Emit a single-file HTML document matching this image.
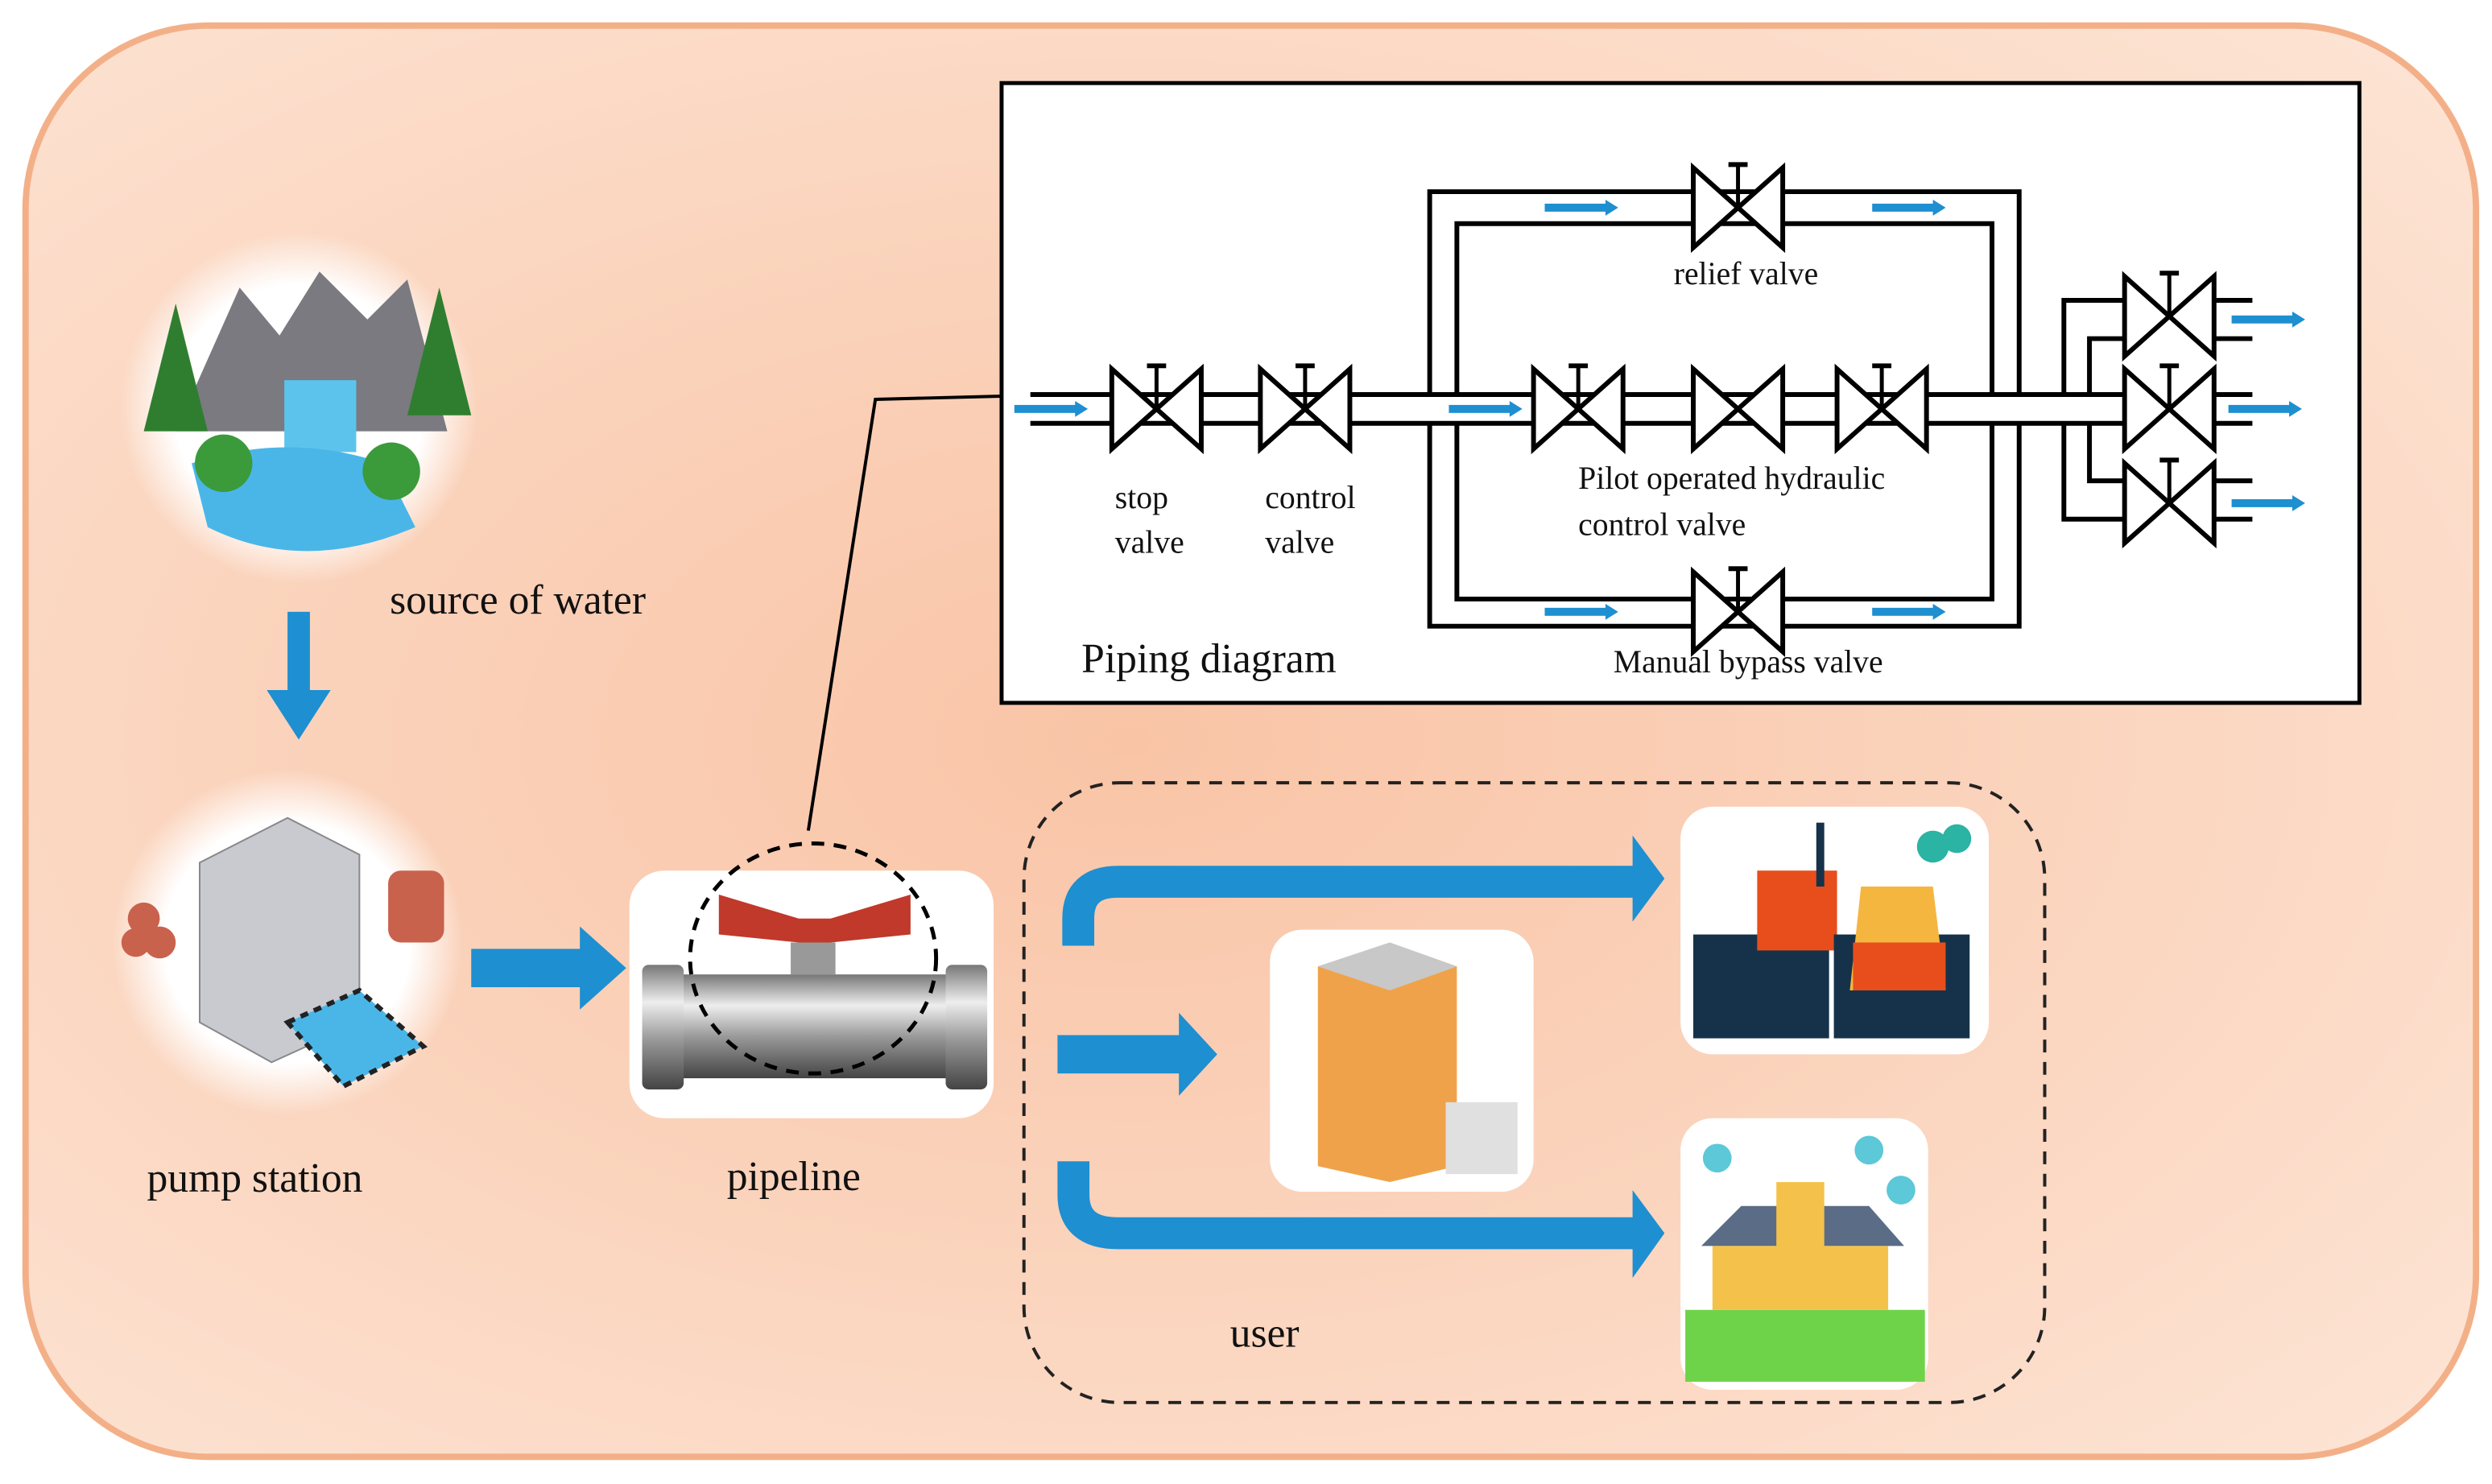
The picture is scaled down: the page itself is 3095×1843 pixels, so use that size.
<!DOCTYPE html>
<html><head><meta charset="utf-8"><style>
html,body{margin:0;padding:0;background:#fff}
svg{display:block}
text{font-family:"Liberation Serif",serif;fill:#111}
</style></head><body>
<svg width="3095" height="1843" viewBox="0 0 1560 929" preserveAspectRatio="none" xmlns="http://www.w3.org/2000/svg">
<defs>
<radialGradient id="bg" cx="0.45" cy="0.5" r="0.7">
<stop offset="0" stop-color="#f9c4a6"/><stop offset="0.6" stop-color="#fbd6c0"/><stop offset="1" stop-color="#fde3d3"/>
</radialGradient>
<radialGradient id="glow" cx="0.5" cy="0.5" r="0.5">
<stop offset="0.7" stop-color="#ffffff"/><stop offset="1" stop-color="#ffffff" stop-opacity="0"/>
</radialGradient>
<linearGradient id="pipe" x1="0" y1="0" x2="0" y2="1">
<stop offset="0" stop-color="#777"/><stop offset="0.3" stop-color="#eee"/><stop offset="0.6" stop-color="#999"/><stop offset="1" stop-color="#444"/>
</linearGradient>
<g id="valve"><path d="M-28,-25 L28,25 L28,-25 L-28,25 Z" fill="#fff" stroke="#000" stroke-width="3"/></g>
<g id="svalve"><use href="#valve"/><line x1="0" y1="0" x2="0" y2="-27" stroke="#000" stroke-width="2.5"/><line x1="-6" y1="-27" x2="6" y2="-27" stroke="#000" stroke-width="3"/></g>
<g id="ba"><rect x="0" y="-2.5" width="40" height="5" fill="#1e8fd0"/><path d="M38,-5 L46,0 L38,5Z" fill="#1e8fd0"/></g>
</defs>
<rect x="16" y="16" width="1534" height="896" rx="115" fill="url(#bg)" stroke="#f3b088" stroke-width="4"/>

<!-- piping box -->
<rect x="627" y="52" width="850" height="388" fill="#fff" stroke="#000" stroke-width="2.5"/>
<g stroke="#000" stroke-width="3" fill="none">
<path d="M645,247 H1330 M645,265 H1330"/>
<path d="M895,247 V120 H1264 V247 M912,247 V140 H1247 V247"/>
<path d="M895,265 V392 H1264 V265 M912,265 V375 H1247 V265"/>
<path d="M1292,247 V188 H1330 M1308,247 V212 H1330 M1292,265 V325 H1330 M1308,265 V301 H1330"/>
<path d="M1386,188 H1410 M1386,212 H1410 M1386,247 H1410 M1386,265 H1410 M1386,301 H1410 M1386,325 H1410"/>
</g>
<use href="#svalve" x="724" y="256"/><use href="#svalve" x="817" y="256"/>
<use href="#svalve" x="988" y="256"/><use href="#valve" x="1088" y="256"/><use href="#svalve" x="1178" y="256"/>
<use href="#svalve" x="1088" y="130"/><use href="#svalve" x="1088" y="383"/>
<use href="#svalve" x="1358" y="198"/><use href="#svalve" x="1358" y="256"/><use href="#svalve" x="1358" y="315"/>
<use href="#ba" x="635" y="256"/><use href="#ba" x="907" y="256"/>
<use href="#ba" x="967" y="130"/><use href="#ba" x="1172" y="130"/>
<use href="#ba" x="967" y="383"/><use href="#ba" x="1172" y="383"/>
<use href="#ba" x="1397" y="200"/><use href="#ba" x="1395" y="256"/><use href="#ba" x="1397" y="315"/>
<g font-size="20">
<text x="1093" y="178" text-anchor="middle">relief valve</text>
<text x="698" y="318">stop</text><text x="698" y="346">valve</text>
<text x="792" y="318">control</text><text x="792" y="346">valve</text>
<text x="988" y="306">Pilot operated hydraulic</text><text x="988" y="335">control valve</text>
<text x="1010" y="421">Manual bypass valve</text>
</g>
<text x="677" y="421" font-size="26">Piping diagram</text>

<!-- leader line -->
<path d="M627,248 L548,250 L506,520" stroke="#000" stroke-width="2" fill="none"/>

<!-- water source -->
<ellipse cx="187" cy="255" rx="112" ry="110" fill="url(#glow)"/>
<g>
<path d="M110,270 L150,180 L175,210 L200,170 L230,200 L255,175 L280,270Z" fill="#7a7a80"/>
<rect x="178" y="238" width="45" height="45" fill="#5cc4ec"/>
<path d="M120,290 Q180,270 240,290 L260,330 Q190,360 130,330Z" fill="#4ab6e8"/>
<circle cx="140" cy="290" r="18" fill="#3b9a3a"/><circle cx="245" cy="295" r="18" fill="#3b9a3a"/>
<path d="M90,270 L110,190 L130,270Z" fill="#2f7e2f"/><path d="M255,260 L275,180 L295,260Z" fill="#2f7e2f"/>
</g>
<text x="244" y="384" font-size="26">source of water</text>
<rect x="180" y="383" width="14" height="50" fill="#1e8fd0"/><path d="M167,432 L187,463 L207,432Z" fill="#1e8fd0"/>

<!-- pump station -->
<ellipse cx="180" cy="590" rx="110" ry="108" fill="url(#glow)"/>
<path d="M125,540 L180,512 L225,535 L225,640 L170,665 L125,640Z" fill="#c8cad0" stroke="#888"/>
<path d="M180,640 L225,620 L265,655 L215,680Z" fill="#4ab6e8" stroke="#222" stroke-width="3" stroke-dasharray="5 4"/>
<circle cx="90" cy="575" r="10" fill="#c9624c"/><circle cx="100" cy="590" r="10" fill="#c9624c"/><circle cx="85" cy="590" r="9" fill="#c9624c"/>
<rect x="243" y="545" width="35" height="45" rx="8" fill="#c9624c"/>
<text x="92" y="746" font-size="26">pump station</text>
<rect x="295" y="594" width="70" height="24" fill="#1e8fd0"/><path d="M363,580 L392,606 L363,632Z" fill="#1e8fd0"/>

<!-- pipeline -->
<rect x="394" y="545" width="228" height="155" rx="22" fill="#fff"/>
<rect x="410" y="610" width="200" height="65" fill="url(#pipe)"/>
<rect x="402" y="604" width="26" height="78" rx="4" fill="url(#pipe)"/><rect x="592" y="604" width="26" height="78" rx="4" fill="url(#pipe)"/>
<rect x="495" y="590" width="28" height="20" fill="#999"/>
<path d="M450,560 L500,575 L520,575 L570,560 L570,585 L520,590 L500,590 L450,585Z" fill="#c0392b"/>
<ellipse cx="509" cy="600" rx="77" ry="72" fill="none" stroke="#000" stroke-width="2.5" stroke-dasharray="8 6"/>
<text x="455" y="745" font-size="26">pipeline</text>

<!-- user box -->
<rect x="641" y="490" width="639" height="388" rx="60" fill="none" stroke="#222" stroke-width="2" stroke-dasharray="8 6"/>
<path d="M675,592 V575 Q675,552 700,552 H1025" stroke="#1e8fd0" stroke-width="20" fill="none"/>
<path d="M1022,523 L1042,550 L1022,577Z" fill="#1e8fd0"/>
<rect x="662" y="648" width="78" height="24" fill="#1e8fd0"/><path d="M738,634 L762,660 L738,686Z" fill="#1e8fd0"/>
<path d="M672,727 V748 Q672,772 700,772 H1025" stroke="#1e8fd0" stroke-width="20" fill="none"/>
<path d="M1022,745 L1042,772 L1022,800Z" fill="#1e8fd0"/>
<text x="770" y="843" font-size="26">user</text>

<!-- factory -->
<rect x="1052" y="505" width="193" height="155" rx="20" fill="#fff"/>
<rect x="1060" y="585" width="85" height="65" fill="#16324a"/>
<rect x="1100" y="545" width="50" height="50" fill="#e84e1b"/><rect x="1137" y="515" width="5" height="40" fill="#16324a"/>
<rect x="1148" y="585" width="85" height="65" fill="#16324a"/>
<path d="M1165,555 H1210 L1218,620 H1158Z" fill="#f4b63f"/><rect x="1160" y="590" width="58" height="30" fill="#e84e1b"/>
<circle cx="1210" cy="530" r="10" fill="#2bb3a3"/><circle cx="1225" cy="525" r="9" fill="#2bb3a3"/>

<!-- building -->
<rect x="795" y="582" width="165" height="164" rx="20" fill="#fff"/>
<path d="M825,605 L870,590 L912,605 L912,730 L870,740 L825,730Z" fill="#f0a24a"/>
<path d="M825,605 L870,590 L912,605 L870,620Z" fill="#c8c8c8"/>
<rect x="905" y="690" width="45" height="45" fill="#e0e0e0"/>

<!-- school -->
<rect x="1052" y="700" width="155" height="170" rx="20" fill="#fff"/>
<rect x="1055" y="820" width="150" height="45" fill="#6fd34a"/>
<path d="M1065,780 L1090,755 L1170,755 L1192,780Z" fill="#5a6c86"/>
<rect x="1072" y="780" width="110" height="40" fill="#f4c24a"/>
<rect x="1112" y="740" width="30" height="50" fill="#f4c24a"/>
<circle cx="1075" cy="725" r="9" fill="#5cc8d8"/><circle cx="1170" cy="720" r="9" fill="#5cc8d8"/><circle cx="1190" cy="745" r="9" fill="#5cc8d8"/>
</svg>
</body></html>
